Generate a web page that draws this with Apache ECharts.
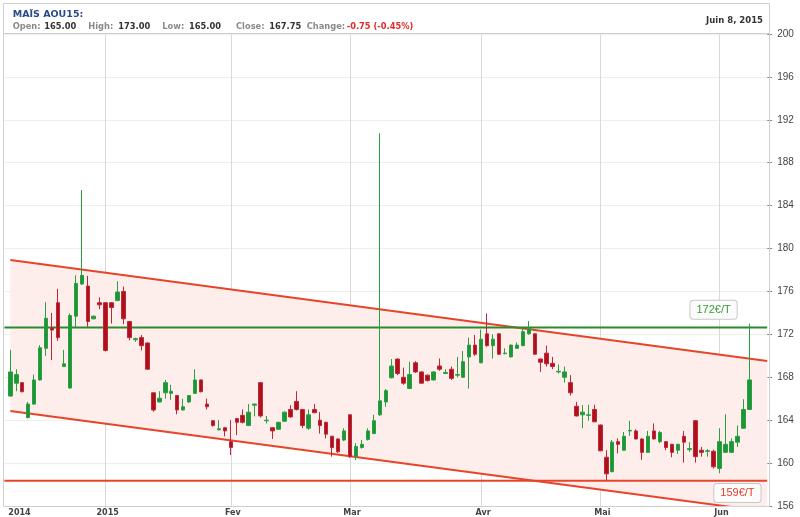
<!DOCTYPE html>
<html><head><meta charset="utf-8">
<script src="https://cdn.jsdelivr.net/npm/echarts@6/dist/echarts.min.js"></script>
<style>html,body{margin:0;padding:0;background:#fff}#c{width:800px;height:517px}</style>
</head><body><div id="c"></div>
<script>
// Trading days (category axis)
const tradingDays = [
'2014-12-08','2014-12-09','2014-12-10','2014-12-11','2014-12-12','2014-12-15','2014-12-16','2014-12-17','2014-12-18','2014-12-19','2014-12-22','2014-12-23','2014-12-24','2014-12-29','2014-12-30','2014-12-31',
'2015-01-02','2015-01-05','2015-01-06','2015-01-07','2015-01-08','2015-01-09','2015-01-12','2015-01-13','2015-01-14','2015-01-15','2015-01-16','2015-01-19','2015-01-20','2015-01-21','2015-01-22','2015-01-23','2015-01-26','2015-01-27','2015-01-28','2015-01-29','2015-01-30',
'2015-02-02','2015-02-03','2015-02-04','2015-02-05','2015-02-06','2015-02-09','2015-02-10','2015-02-11','2015-02-12','2015-02-13','2015-02-16','2015-02-17','2015-02-18','2015-02-19','2015-02-20','2015-02-23','2015-02-24','2015-02-25','2015-02-26','2015-02-27',
'2015-03-02','2015-03-03','2015-03-04','2015-03-05','2015-03-06','2015-03-09','2015-03-10','2015-03-11','2015-03-12','2015-03-13','2015-03-16','2015-03-17','2015-03-18','2015-03-19','2015-03-20','2015-03-23','2015-03-24','2015-03-25','2015-03-26','2015-03-27','2015-03-30','2015-03-31',
'2015-04-01','2015-04-02','2015-04-07','2015-04-08','2015-04-09','2015-04-10','2015-04-13','2015-04-14','2015-04-15','2015-04-16','2015-04-17','2015-04-20','2015-04-21','2015-04-22','2015-04-23','2015-04-24','2015-04-27','2015-04-28','2015-04-29','2015-04-30',
'2015-05-04','2015-05-05','2015-05-06','2015-05-07','2015-05-08','2015-05-11','2015-05-12','2015-05-13','2015-05-14','2015-05-15','2015-05-18','2015-05-19','2015-05-20','2015-05-21','2015-05-22','2015-05-25','2015-05-26','2015-05-27','2015-05-28','2015-05-29',
'2015-06-01','2015-06-02','2015-06-03','2015-06-04','2015-06-05','2015-06-08'
];
const monthNames = {'2015-01':'2015','2015-02':'Fev','2015-03':'Mar','2015-04':'Avr','2015-05':'Mai','2015-06':'Jun'};
const firstLabel = '2014';

const opens = [
166.25,167.45,167.5,164.25,165.5,167.75,170.7,172.6,174.95,169.0,167.0,173.7,176.7,176.5,173.45,174.95,
174.95,174.95,175.15,176.0,173.2,171.5,171.7,171.2,166.55,165.7,166.55,166.5,166.3,164.95,165.7,166.5,167.75,165.5,163.95,163.1,163.3,
162.0,164.15,164.45,163.5,165.4,167.5,163.95,163.3,163.15,163.9,165.0,165.75,165.0,163.25,165.0,164.0,163.8,162.5,162.25,162.15,
164.5,160.6,161.45,162.2,162.75,164.5,165.7,167.95,169.7,168.0,166.95,169.35,168.5,168.2,167.75,169.05,168.35,168.75,168.2,168.0,169.9,171.0,
169.35,172.05,170.95,172.05,170.2,169.9,170.7,170.95,172.05,172.05,169.7,170.25,169.3,168.5,168.0,167.5,165.3,164.5,164.45,165.0,
163.55,160.55,159.2,162.0,161.2,163.0,163.0,162.25,161.0,163.0,162.0,162.0,161.75,161.2,162.5,161.25,163.95,161.2,161.1,161.1,
159.5,161.0,161.0,161.95,163.25,165.0
];
const closes = [
168.5,168.25,166.65,165.5,167.75,170.75,173.5,172.4,171.7,169.25,173.75,176.75,177.5,173.2,173.7,174.75,
170.5,174.5,175.95,173.45,171.7,171.6,170.95,168.75,164.95,166.05,167.5,166.7,164.95,165.25,166.3,167.75,166.65,165.25,163.5,163.2,163.0,
161.45,163.8,163.8,164.75,165.5,164.4,164.0,163.0,163.8,164.75,164.3,165.0,163.5,164.5,164.7,163.5,162.7,161.45,161.05,163.0,
160.6,161.55,161.75,163.0,163.95,165.8,166.75,169.05,168.35,167.45,168.25,168.5,167.45,167.7,168.5,168.75,168.45,167.9,168.25,169.45,171.0,170.15,
171.55,170.95,171.55,170.15,170.25,171.0,171.0,172.25,172.55,170.15,169.4,169.25,169.0,168.55,168.5,166.55,164.4,164.75,164.5,163.85,
161.15,159.0,161.95,161.75,162.5,163.05,162.25,161.0,162.5,162.25,162.85,161.45,161.0,161.75,161.95,161.35,160.6,161.0,161.15,159.65,
162.0,161.75,162.0,162.5,165.0,167.75
];
const lows = [
166.2,166.7,166.6,164.15,165.45,167.7,170.0,169.6,171.4,168.95,166.95,172.7,176.6,172.7,173.4,174.35,
170.4,173.0,175.1,172.95,171.45,171.3,170.5,168.7,164.8,165.65,166.0,165.9,164.55,164.9,165.6,166.45,166.6,165.0,163.4,163.05,162.5,
160.75,162.6,163.7,163.45,164.35,164.25,163.7,162.25,163.1,163.85,164.25,164.9,163.25,163.1,164.65,162.75,162.3,160.6,160.95,162.05,
160.5,160.3,161.35,162.1,162.7,164.4,165.25,167.9,168.2,167.3,166.9,168.4,167.4,167.6,167.7,168.6,168.3,167.75,168.0,167.95,166.95,170.0,
169.3,170.85,169.75,170.1,170.15,169.85,170.65,170.9,171.95,170.1,168.5,169.0,168.75,168.35,167.5,166.3,164.35,163.25,163.95,163.8,
161.1,158.4,159.15,160.9,161.15,162.55,162.2,160.3,160.95,162.2,161.85,161.2,160.55,160.85,160.05,161.05,160.05,160.6,160.6,159.5,
159.05,160.95,160.95,161.5,163.2,165.0
];
const highs = [
170.55,168.75,167.55,165.7,168.25,171.0,175.0,174.0,176.25,170.55,173.95,177.5,185.45,177.45,173.75,175.45,
175.0,175.0,176.95,176.45,173.25,171.7,171.95,171.25,166.6,166.7,167.75,167.3,166.35,166.0,166.35,168.75,167.8,166.0,164.0,164.0,163.35,
164.0,164.2,165.0,165.5,165.55,167.55,164.4,163.35,163.85,164.8,165.4,166.7,165.05,165.0,165.5,164.75,163.85,162.55,162.3,163.25,
164.55,161.85,162.15,163.25,164.5,190.75,166.9,169.7,169.75,168.9,169.45,169.5,168.55,168.25,168.55,169.75,168.75,169.0,169.9,170.45,171.7,171.95,
172.45,173.95,172.0,172.1,170.7,171.05,171.25,172.5,173.25,172.1,169.75,170.95,169.9,169.2,169.0,168.2,165.7,165.4,165.45,165.45,
163.6,161.2,162.15,162.3,162.9,163.95,163.15,162.3,163.0,163.7,163.0,162.05,161.8,161.8,163.0,161.95,164.0,161.5,161.3,161.25,
163.25,164.55,162.3,163.5,165.95,173.0
];

// Trend channel (values at category index 1 and 128)
const channelX = [1, 128];
const channelUpper = [178.93, 169.52];
const channelLower = [164.85, 155.46];
const resistanceLevel = 172.65;
const supportLevel = 158.36;
const resistanceLabel = '172€/T';
const supportLabel = '159€/T';

const yMin = 156, yMax = 200, yStep = 4;

const title = 'MAÏS AOU15:';
const dateText = 'Juin 8, 2015';
const quoteItems = [
  {t:'Open:', kind:'label', x:12.7}, {t:'165.00', kind:'value', x:44.3},
  {t:'High:', kind:'label', x:88.3}, {t:'173.00', kind:'value', x:118.3},
  {t:'Low:', kind:'label', x:162.3}, {t:'165.00', kind:'value', x:189},
  {t:'Close:', kind:'label', x:236}, {t:'167.75', kind:'value', x:269.3},
  {t:'Change:', kind:'label', x:306.7}, {t:'-0.75 (-0.45%)', kind:'change', x:346.7}
];

const categories = [''].concat(tradingDays, ['', '', '']);
const candleData = ['-'].concat(tradingDays.map((d, i) => [opens[i], closes[i], lows[i], highs[i]]), ['-', '-', '-']);
const lastIdx = categories.length - 1;

function isMonthStart(idx) {
  const v = categories[idx], p = categories[idx - 1];
  return !!(v && p && v.slice(0, 7) !== p.slice(0, 7));
}

const chart = echarts.init(document.getElementById('c'));
const colors = {up:'#1c9636', down:'#b0101c', upWick:'#2a9f42', downWick:'#bb2a36', channel:'#e8442a', green:'#2b8a2b'};

const graphics = [
  {type:'rect', z:100, silent:true, shape:{x:3.5, y:3.5, width:766, height:503}, style:{fill:'none', stroke:'#cfcfcf', lineWidth:1}},
  {type:'line', z:100, silent:true, shape:{x1:3.5, y1:33.5, x2:769.5, y2:33.5}, style:{stroke:'#cfcfcf', lineWidth:1}},
  {type:'text', z:101, x:12.7, y:14.5, style:{text:title, fill:'#2a4a8c', font:'bold 9.5px "DejaVu Sans"', verticalAlign:'middle', align:'left'}},
  {type:'text', z:101, x:763, y:21, style:{text:dateText, fill:'#333', font:'bold 8.5px "DejaVu Sans"', verticalAlign:'middle', align:'right'}}
];
quoteItems.forEach(q => {
  graphics.push({type:'text', z:101, x:q.x, y:26.5, style:{text:q.t,
    fill: q.kind === 'label' ? '#8a8a8a' : (q.kind === 'change' ? '#e02b2b' : '#333'),
    font:'bold 8.3px "DejaVu Sans"', verticalAlign:'middle', align:'left'}});
});

const boxLabel = (txt, col) => ({show:true, position:'inside', formatter:txt, color:col, fontSize:11,
  fontFamily:'Liberation Sans', backgroundColor:'#fbfbfb', borderColor:'#c8c8c8', borderWidth:1, borderRadius:3, padding:[4,6,3,6]});

chart.setOption({
  animation:false,
  backgroundColor:'#fff',
  grid:{left:4.34, right:32.8, top:34, bottom:11, containLabel:false},
  xAxis:{
    type:'category', data:categories, boundaryGap:false,
    axisLine:{show:true, lineStyle:{color:'#cfcfcf'}},
    axisTick:{show:false},
    axisLabel:{
      interval:(idx) => idx === 0 || isMonthStart(idx),
      formatter:(val, idx) => idx === 0 ? firstLabel : monthNames[val.slice(0, 7)],
      color:'#444', fontWeight:'bold', fontSize:8, fontFamily:'DejaVu Sans', margin:3,
      alignMinLabel:'left', padding:[0,0,0,4]
    },
    splitLine:{show:true, interval:(idx) => isMonthStart(idx), lineStyle:{color:'#d9d9d9', width:1}}
  },
  yAxis:{
    type:'value', position:'right', min:yMin, max:yMax, interval:yStep, scale:true,
    axisLine:{show:false},
    axisTick:{show:true, length:5, lineStyle:{color:'#888'}},
    axisLabel:{color:'#444', fontSize:10, fontFamily:'Liberation Sans', margin:10},
    splitLine:{show:true, lineStyle:{color:'#efefef', width:1}}
  },
  graphic:graphics,
  series:[
    {type:'line', name:'bandBase', stack:'band', symbol:'none', silent:true, z:1,
      data:channelX.map((x, i) => [x, channelLower[i]]), lineStyle:{opacity:0}},
    {type:'line', name:'band', stack:'band', symbol:'none', silent:true, z:1,
      data:channelX.map((x, i) => [x, channelUpper[i] - channelLower[i]]), lineStyle:{opacity:0},
      areaStyle:{color:'#fdeeec', opacity:1}},
    {type:'line', name:'upper', symbol:'none', silent:true, z:3,
      data:channelX.map((x, i) => [x, channelUpper[i]]), lineStyle:{color:colors.channel, width:2}},
    {type:'line', name:'lower', symbol:'none', silent:true, z:3,
      data:channelX.map((x, i) => [x, channelLower[i]]), lineStyle:{color:colors.channel, width:2}},
    {type:'line', name:'resistance', symbol:'none', silent:true, z:3,
      data:[[0, resistanceLevel], [lastIdx, resistanceLevel]], lineStyle:{color:colors.green, width:2},
      markPoint:{symbol:'rect', symbolSize:1, itemStyle:{color:'rgba(0,0,0,0)'}, silent:true,
        data:[{coord:[119, 174.3]}], label:boxLabel(resistanceLabel, '#3a9a3a')}},
    {type:'line', name:'support', symbol:'none', silent:true, z:3,
      data:[[0, supportLevel], [lastIdx, supportLevel]], lineStyle:{color:colors.channel, width:2},
      markPoint:{symbol:'rect', symbolSize:1, itemStyle:{color:'rgba(0,0,0,0)'}, silent:true,
        data:[{coord:[123, 157.21]}], label:boxLabel(supportLabel, '#e0402a')}},
    {type:'candlestick', name:'MAÏS AOU15', z:5, data:candleData, barWidth:4,
      itemStyle:{color:colors.up, color0:colors.down, borderColor:colors.upWick, borderColor0:colors.downWick, borderWidth:1}}
  ]
});
</script></body></html>
